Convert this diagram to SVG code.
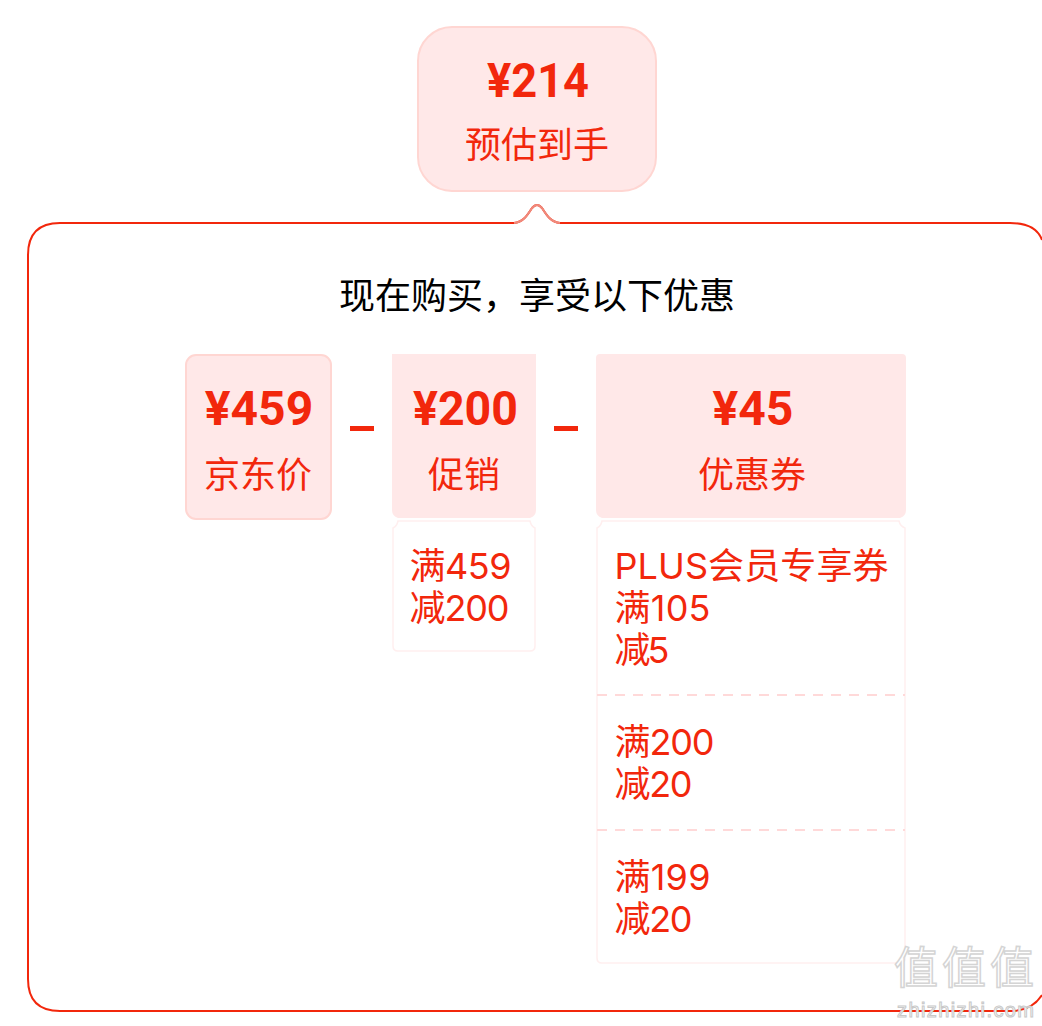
<svg xmlns="http://www.w3.org/2000/svg" width="1042" height="1026" viewBox="0 0 1042 1026">
<style>
text{font-family:"Inter","Noto Sans CJK SC",sans-serif;fill:#f2270c}
.p{font-family:"Roboto","Noto Sans CJK SC",sans-serif;font-size:48px;font-weight:700;text-anchor:middle}
.l{font-family:"Noto Sans CJK SC",sans-serif;font-size:36px;text-anchor:middle}
.t{font-size:36px}
.box{fill:#ffe8e8;stroke:#ffd6d2;stroke-width:2}
.hd{fill:#ffe8e8}
.card{fill:#fff;stroke:#ffefef;stroke-width:1.5}
.dash{stroke:#ffd9d9;stroke-width:2;stroke-dasharray:10 8;fill:none}
.wm{font-family:"Noto Sans CJK SC",sans-serif;fill:#fff;stroke:#d4d4d4;stroke-width:1.5}
</style>
<rect width="1042" height="1026" fill="#fff"/>
<g id="connectors">
<path d="M1042 240 Q1036 223 1010 223 H560 C550 222 546 214 542 208 Q537 202 532 208 C528 214 524 222 514 223 H60 Q28 223 28 255 V979 Q28 1011 60 1011 H1010 Q1032 1011 1042 995" fill="#fff" stroke="#f2270c" stroke-width="2"/>
<path d="M514 223 C524 222 528 214 532 208 Q537 202 542 208 C546 214 550 222 560 223" fill="none" stroke="#f08a7c" stroke-width="2"/>
</g>
<g id="total">
<rect class="box" x="418" y="27" width="238" height="164" rx="34"/>
<text class="p" x="538" y="97" textLength="102" lengthAdjust="spacingAndGlyphs">¥214</text>
<text class="l" x="537" y="158">预估到手</text>
</g>
<text id="title" x="537" y="309" text-anchor="middle" style="font-family:'Noto Sans CJK SC',sans-serif;font-size:36px;fill:#000">现在购买，享受以下优惠</text>
<g id="jd-price">
<rect class="box" x="186" y="355" width="145" height="164" rx="10"/>
<text class="p" x="259" y="425">¥459</text>
<text class="l" x="258" y="488">京东价</text>
</g>
<rect id="minus-1" x="350" y="426" width="24" height="5" fill="#f2270c"/>
<g id="promo">
<path class="hd" d="M392 354 H536 V510 Q536 516 530 518 H398 Q392 516 392 510Z"/>
<text class="p" x="465.500" y="425" textLength="105" lengthAdjust="spacingAndGlyphs">¥200</text>
<text class="l" x="464" y="488">促销</text>
<path class="card" d="M393 528 Q397 526 398 521 H530 Q531 526 535 528 V646 Q535 651 530 651 H398 Q393 651 393 646Z"/>
<text class="t" x="409.500" y="578.500" textLength="102">满459</text>
<text class="t" x="409.500" y="620.500" textLength="100">减200</text>
</g>
<rect id="minus-2" x="554" y="426" width="24" height="5" fill="#f2270c"/>
<g id="coupon">
<path class="hd" d="M596 358 Q596 354 600 354 H902 Q906 354 906 358 V510 Q906 516 900 518 H602 Q596 516 596 510Z"/>
<text class="p" x="753" y="425">¥45</text>
<text class="l" x="752" y="488">优惠券</text>
<path class="card" d="M597 528 Q601 526 602 521 H899 Q900 526 905 528 V958 Q905 963 900 963 H602 Q597 963 597 958Z"/>
<text class="t" x="614.500" y="578.500" textLength="274">PLUS会员专享券</text>
<text class="t" x="614.500" y="620.500" textLength="96">满105</text>
<text class="t" x="614.500" y="662.500" textLength="55">减5</text>
<line class="dash" x1="597" y1="695" x2="905" y2="695"/>
<text class="t" x="614.500" y="755" textLength="100">满200</text>
<text class="t" x="614.500" y="797" textLength="78">减20</text>
<line class="dash" x1="597" y1="830" x2="905" y2="830"/>
<text class="t" x="614.500" y="890" textLength="96">满199</text>
<text class="t" x="614.500" y="932" textLength="78">减20</text>
</g>
<g id="watermark">
<text class="wm" x="894" y="984" font-size="44" textLength="140">值值值</text>
<text x="897" y="1017" style="font-family:'Liberation Sans',sans-serif;font-size:20px;fill:#fff;stroke:#c8c8c8;stroke-width:1" textLength="137">zhizhizhi.com</text>
</g>
</svg>
